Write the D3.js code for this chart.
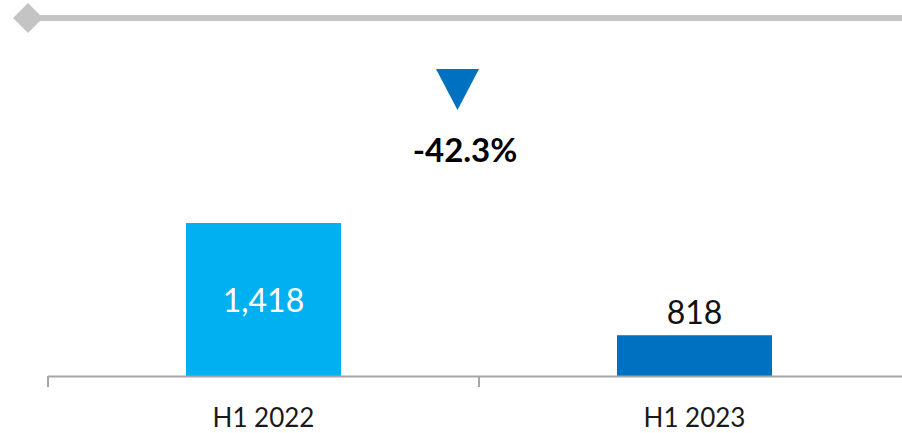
<!DOCTYPE html>
<html>
<head>
<meta charset="utf-8">
<script src="https://cdn.jsdelivr.net/npm/d3@7"></script>
<style>
  body { margin: 0; background: #fff; }
  svg { display: block; font-family: Lato, "Open Sans", sans-serif; }
</style>
</head>
<body>
<svg id="chart" width="902" height="433"></svg>
<script>
var categories = ['H1 2022', 'H1 2023'];
var values = [1418, 818];
var barColors = ['#00B0F0', '#0070C0'];
var changeLabel = '-42.3%';

var svg = d3.select('#chart');

var x = d3.scaleBand()
    .domain(categories)
    .range([48, 910]);

// value axis doesn't start at zero in the original
var y = d3.scaleLinear()
    .domain([600, 1418])
    .range([376, 223]);

var barW = 155;

// header rule with diamond
svg.append('rect')
    .attr('x', 28).attr('y', 15)
    .attr('width', 880).attr('height', 6)
    .attr('fill', '#C4C4C4');
svg.append('path')
    .attr('d', 'M28,3 L43,18 L28,33 L13,18 Z')
    .attr('fill', '#C4C4C4');

// bars
svg.selectAll('rect.bar')
    .data(values)
    .enter()
    .append('rect')
    .attr('class', 'bar')
    .attr('x', function (d, i) { return x(categories[i]) + x.bandwidth() / 2 - barW / 2; })
    .attr('y', function (d) { return y(d); })
    .attr('width', barW)
    .attr('height', function (d) { return y.range()[0] - y(d); })
    .attr('fill', function (d, i) { return barColors[i]; });

// value labels: inside first bar, above second
svg.selectAll('text.val')
    .data(values)
    .enter()
    .append('text')
    .attr('class', 'val')
    .attr('x', function (d, i) { return x(categories[i]) + x.bandwidth() / 2; })
    .attr('y', function (d, i) {
        return i === 0 ? (y(d) + y.range()[0]) / 2 + 12 : y(d) - 11;
    })
    .attr('text-anchor', 'middle')
    .attr('font-size', 32)
    .attr('fill', function (d, i) { return i === 0 ? '#fff' : '#111'; })
    .text(function (d) { return d3.format(',')(d); });

// x axis
var axis = svg.append('g')
    .attr('transform', 'translate(0,376.5)')
    .call(d3.axisBottom(x).tickSize(0).tickPadding(0).tickFormat(''));
axis.select('.domain').attr('stroke', '#A6A6A6').attr('stroke-width', 2)
    .attr('d', 'M48,0H910');

svg.selectAll('line.sep')
    .data(categories)
    .enter()
    .append('line')
    .attr('class', 'sep')
    .attr('x1', function (d) { return x(d); })
    .attr('x2', function (d) { return x(d); })
    .attr('y1', 376).attr('y2', 387)
    .attr('stroke', '#A6A6A6').attr('stroke-width', 2);

svg.selectAll('text.cat')
    .data(categories)
    .enter()
    .append('text')
    .attr('class', 'cat')
    .attr('x', function (d) { return x(d) + x.bandwidth() / 2; })
    .attr('y', 427)
    .attr('text-anchor', 'middle')
    .attr('font-size', 26)
    .attr('fill', '#1a1a1a')
    .text(function (d) { return d; });

// change marker
var mid = x.range()[0] + (x.range()[1] - x.range()[0]) / 2;
var cx = 457.5;
svg.append('path')
    .attr('d', 'M' + (cx - 21.5) + ',69 L' + (cx + 21.5) + ',69 L' + cx + ',110 Z')
    .attr('fill', '#0070C0');
svg.append('text')
    .attr('x', 465)
    .attr('y', 162)
    .attr('text-anchor', 'middle')
    .attr('font-size', 33)
    .attr('font-weight', 'bold')
    .attr('fill', '#000')
    .text(changeLabel);
</script>
</body>
</html>
